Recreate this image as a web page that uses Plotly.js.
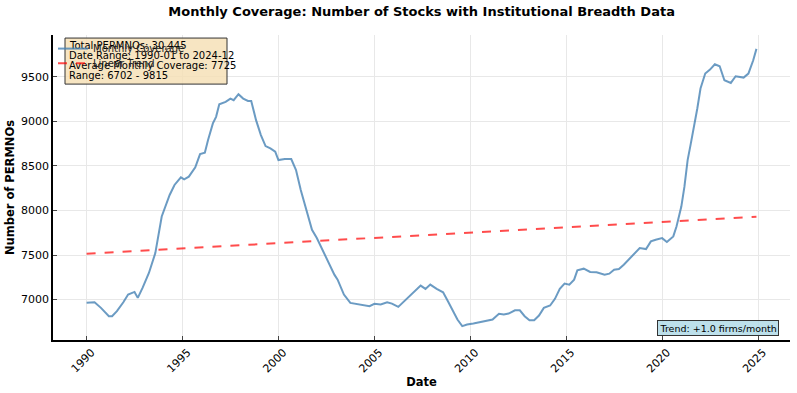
<!DOCTYPE html>
<html>
<head>
<meta charset="utf-8">
<script src="https://cdn.plot.ly/plotly-3.0.1.min.js"></script>
<style>
  html, body { margin: 0; padding: 0; background: #fff; }
  #chart { width: 797px; height: 393px; }
</style>
</head>
<body>
<div id="chart"></div>
<script>
// monthly coverage (irregular spacing)
const months = [
  '1990-01','1990-06','1990-10','1991-03','1991-05','1991-08','1991-12',
  '1992-03','1992-07','1992-09','1992-12','1993-04','1993-08','1993-12',
  '1994-05','1994-08','1994-12','1995-02','1995-05','1995-09','1995-12',
  '1996-03','1996-05','1996-08','1996-10','1996-12','1997-04','1997-07',
  '1997-09','1997-12','1998-03','1998-06','1998-08','1998-11','1999-02',
  '1999-05','1999-08','1999-11','2000-01','2000-05','2000-09','2000-12',
  '2001-03','2001-07','2001-10','2002-01','2002-06','2002-10','2002-12',
  '2003-02','2003-06','2003-10','2004-05','2004-10','2005-01','2005-05',
  '2005-09','2005-12','2006-04','2006-07','2006-11','2007-02','2007-06',
  '2007-09','2007-12','2008-04','2008-08','2008-11','2009-02','2009-05',
  '2009-08','2009-11','2010-03','2010-08','2010-12','2011-03','2011-07',
  '2011-10','2012-01','2012-05','2012-08','2012-11','2013-02','2013-05',
  '2013-08','2013-11','2014-03','2014-06','2014-09','2014-12','2015-03',
  '2015-06','2015-08','2015-12','2016-04','2016-08','2017-01','2017-04',
  '2017-07','2017-10','2018-01','2018-05','2018-08','2018-11','2019-03',
  '2019-06','2019-09','2020-01','2020-04','2020-08','2020-10','2021-01',
  '2021-03','2021-05','2021-07','2021-09','2021-11','2022-01','2022-04',
  '2022-07','2022-10','2023-01','2023-04','2023-08','2023-11','2024-04',
  '2024-07','2024-10','2024-12'
];
const coverage = [
  6965, 6970, 6907, 6813, 6813, 6870, 6970,
  7056, 7086, 7019, 7131, 7299, 7522, 7933,
  8175, 8287, 8373, 8351, 8380, 8485, 8634,
  8649, 8791, 8978, 9052, 9194, 9220, 9257,
  9239, 9306, 9257, 9231, 9231, 9015, 8847,
  8724, 8698, 8660, 8567, 8578, 8578, 8455,
  8231, 7970, 7784, 7691, 7504, 7336, 7280,
  7224, 7056, 6963, 6944, 6925, 6952, 6944,
  6970, 6955, 6918, 6970, 7037, 7082, 7157,
  7120, 7168, 7120, 7082, 6981, 6869, 6776,
  6702, 6720, 6731, 6750, 6757, 6776, 6840,
  6832, 6843, 6880, 6880, 6813, 6768, 6768,
  6821, 6907, 6933, 7008, 7120, 7179, 7168,
  7224, 7328, 7347, 7310, 7306, 7280, 7291,
  7336, 7343, 7392, 7466, 7515, 7578, 7567,
  7653, 7672, 7690, 7646, 7709, 7821, 8044,
  8268, 8567, 8754, 8940, 9146, 9370, 9538,
  9582, 9642, 9620, 9463, 9433, 9508, 9493,
  9538, 9687, 9815
];

// fitted trend, end points
const trendMonths = ['1990-01', '2024-12'];
const trendValues = [7515, 7929];

const yearTicks = ['1990', '1995', '2000', '2005', '2010', '2015', '2020', '2025'];

const infoLines = [
  'Total PERMNOs: 30,445',
  'Date Range: 1990-01 to 2024-12',
  'Average Monthly Coverage: 7725',
  'Range: 6702 - 9815'
];
const trendLabel = 'Trend: +1.0 firms/month';

const font = 'DejaVu Sans, sans-serif';

const data = [{
  x: months,
  y: coverage,
  name: 'Monthly Coverage',
  type: 'scatter',
  mode: 'lines',
  legend: 'legend',
  line: { color: 'rgba(70,130,180,0.8)', width: 2 }
}, {
  x: trendMonths,
  y: trendValues,
  name: 'Linear Trend',
  type: 'scatter',
  mode: 'lines',
  legend: 'legend2',
  line: { color: 'rgba(255,0,0,0.7)', width: 2, dash: 'dash' }
}];

const axisStyle = {
  ticks: 'inside',
  ticklen: 4,
  tickwidth: 1,
  tickcolor: '#444',
  showline: true,
  linecolor: '#000',
  linewidth: 1.5,
  showgrid: true,
  gridcolor: '#e8e8e8',
  gridwidth: 1,
  zeroline: false,
  tickfont: { size: 11 }
};

const legendStyle = {
  xanchor: 'left', yanchor: 'top',
  bgcolor: 'rgba(0,0,0,0)',
  font: { size: 10, color: '#222' }
};

// info box: one annotation per line so the line spacing stays tight
const infoTop = 0.967, infoStep = 0.033;
const infoAnnotations = infoLines.map((line, i) => ({
  xref: 'paper', yref: 'paper',
  x: 0.019, y: infoTop - i * infoStep, xanchor: 'left', yanchor: 'middle',
  text: line,
  showarrow: false,
  font: { size: 10, family: font, color: '#000' }
}));

const layout = {
  width: 797,
  height: 393,
  paper_bgcolor: '#fff',
  plot_bgcolor: '#fff',
  font: { family: font, color: '#000', size: 11 },
  margin: { l: 53, r: 7, t: 35, b: 53 },
  title: {
    text: '<b>Monthly Coverage: Number of Stocks with Institutional Breadth Data</b>',
    font: { size: 13, family: font },
    x: 0.529, xanchor: 'center',
    y: 0.97, yanchor: 'middle'
  },
  xaxis: Object.assign({}, axisStyle, {
    type: 'date',
    range: ['1988-04-01', '2026-09-01'],
    tickvals: yearTicks.map(y => y + '-01-01'),
    ticktext: yearTicks,
    tickangle: -45,
    ticklabelshift: 5,
    title: { text: '<b>Date</b>', font: { size: 11.5 }, standoff: 4 }
  }),
  yaxis: Object.assign({}, axisStyle, {
    range: [6546, 9971],
    tickvals: [7000, 7500, 8000, 8500, 9000, 9500],
    title: { text: '<b>Number of PERMNOs</b>', font: { size: 11.5 }, standoff: 4 }
  }),
  showlegend: true,
  legend: Object.assign({ x: 0.0, y: 1.003 }, legendStyle),
  legend2: Object.assign({ x: 0.0, y: 0.955 }, legendStyle),
  shapes: [{
    type: 'rect', xref: 'paper', yref: 'paper', layer: 'above',
    x0: 0.0163, x1: 0.2361, y0: 0.839, y1: 0.990,
    fillcolor: 'rgba(245,222,179,0.8)',
    line: { color: '#333', width: 1 }
  }],
  annotations: infoAnnotations.concat([{
    xref: 'paper', yref: 'paper',
    x: 0.985, y: 0.014, xanchor: 'right', yanchor: 'bottom',
    text: trendLabel,
    showarrow: false,
    font: { size: 9.5, family: font },
    bgcolor: 'rgba(173,216,230,0.8)',
    bordercolor: '#333',
    borderwidth: 1,
    borderpad: 1.5
  }])
};

Plotly.newPlot('chart', data, layout, { displayModeBar: false, responsive: false }).then(gd => {
  // legend sits above the info box, as in the original
  const info = gd.querySelector('.infolayer');
  gd.querySelectorAll('.infolayer > g[class^="legend"]').forEach(g => info.appendChild(g));
});
</script>
</body>
</html>
